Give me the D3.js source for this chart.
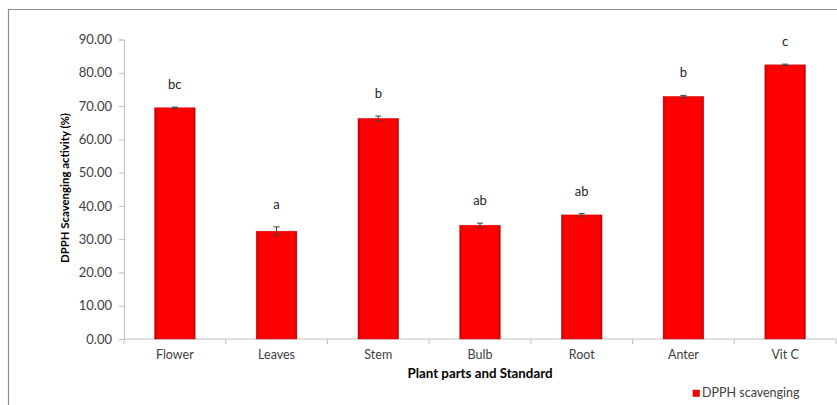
<!DOCTYPE html>
<html>
<head>
<meta charset="utf-8">
<script src="https://cdn.jsdelivr.net/npm/d3@7"></script>
<style>
  body { margin: 0; background: #fff; }
  svg { display: block; font-family: Lato, "Open Sans", sans-serif; }
</style>
</head>
<body>
<svg id="chart" width="837" height="405"></svg>
<script>
// data
const parts = ["Flower", "Leaves", "Stem", "Bulb", "Root", "Anter", "Vit C"];
const scavenging = [69.5, 32.4, 66.3, 34.2, 37.3, 72.9, 82.4];
const errors = [0.2, 1.3, 0.7, 0.6, 0.4, 0.3, 0.2];
const letters = ["bc", "a", "b", "ab", "ab", "b", "c"];
const yTicks = [0, 10, 20, 30, 40, 50, 60, 70, 80, 90];

const width = 837, height = 405;
const margin = { top: 39.5, right: 1, bottom: 66, left: 124 };
const svg = d3.select("#chart");

// outer frame of the chart area
svg.append("path")
    .attr("d", `M8.5,${height} V9.5 H${width}`)
    .attr("fill", "none").attr("stroke", "#8c8c8c").attr("stroke-width", 1.2);

const x = d3.scaleBand().domain(parts).range([margin.left, width - margin.right]).paddingInner(0.6).paddingOuter(0.3);
const y = d3.scaleLinear().domain([0, 90]).range([height - margin.bottom, margin.top]);

// gradient for the bevelled bars
const defs = svg.append("defs");
const grad = defs.append("linearGradient").attr("id", "barGrad").attr("x1", 0).attr("x2", 1);
grad.append("stop").attr("offset", "0%").attr("stop-color", "#c80000");
grad.append("stop").attr("offset", "8%").attr("stop-color", "#ff0000");
grad.append("stop").attr("offset", "92%").attr("stop-color", "#ff0000");
grad.append("stop").attr("offset", "100%").attr("stop-color", "#c80000");

// y axis
const gY = svg.append("g").attr("transform", `translate(${margin.left},0)`)
    .call(d3.axisLeft(y).tickValues(yTicks).tickFormat(d3.format(".2f")).tickSize(5).tickPadding(7));
gY.select(".domain").attr("stroke", "#bfbfbf");
gY.selectAll(".tick line").attr("stroke", "#bfbfbf");
gY.selectAll("text").attr("fill", "#404040").style("font-size", "13px").style("font-family", "Lato, sans-serif");

// x axis with ticks at band boundaries
const xAxisY = y(0);
const plotW = width - margin.right - margin.left;
svg.append("line").attr("x1", margin.left).attr("x2", width - margin.right)
    .attr("y1", xAxisY).attr("y2", xAxisY).attr("stroke", "#bfbfbf");
svg.append("g").selectAll("line").data(d3.range(parts.length + 1)).join("line")
    .attr("x1", i => margin.left + plotW / parts.length * i)
    .attr("x2", i => margin.left + plotW / parts.length * i)
    .attr("y1", xAxisY).attr("y2", xAxisY + 5).attr("stroke", "#bfbfbf");

svg.append("g").selectAll("text").data(parts).join("text")
    .attr("x", d => x(d) + x.bandwidth() / 2)
    .attr("y", xAxisY + 20)
    .attr("text-anchor", "middle")
    .attr("fill", "#404040")
    .style("font-size", "12.5px")
    .text(d => d);

// bars
const bars = svg.append("g");
bars.selectAll("rect").data(parts).join("rect")
    .attr("x", d => x(d))
    .attr("y", (d, i) => y(scavenging[i]))
    .attr("width", x.bandwidth())
    .attr("height", (d, i) => y(0) - y(scavenging[i]))
    .attr("fill", "url(#barGrad)")
    .attr("stroke", "#b00000").attr("stroke-width", 0.6).attr("stroke-opacity", 0.6);

// error bars
const eb = svg.append("g").attr("stroke", "#404040").attr("stroke-width", 1);
parts.forEach((p, i) => {
    const cx = x(p) + x.bandwidth() / 2;
    const y1 = y(scavenging[i] + errors[i]), y2 = y(scavenging[i] - errors[i]);
    eb.append("line").attr("x1", cx).attr("x2", cx).attr("y1", y1).attr("y2", y2);
    eb.append("line").attr("x1", cx - 3).attr("x2", cx + 3).attr("y1", y1).attr("y2", y1);
    eb.append("line").attr("x1", cx - 3).attr("x2", cx + 3).attr("y1", y2).attr("y2", y2);
});

// significance letters
svg.append("g").selectAll("text").data(parts).join("text")
    .attr("x", d => x(d) + x.bandwidth() / 2)
    .attr("y", (d, i) => y(scavenging[i] + errors[i]) - 18)
    .attr("text-anchor", "middle")
    .attr("fill", "#262626")
    .style("font-size", "13px")
    .text((d, i) => letters[i]);

// axis titles
svg.append("text")
    .attr("x", 480)
    .attr("y", 378)
    .attr("text-anchor", "middle")
    .attr("fill", "#000")
    .style("font-size", "13.3px").style("font-weight", "bold")
    .text("Plant parts and Standard");

svg.append("text")
    .attr("transform", `translate(69,188) rotate(-90)`)
    .attr("text-anchor", "middle")
    .attr("fill", "#000")
    .style("font-size", "11.4px").style("font-weight", "bold")
    .text("DPPH Scavenging activity (%)");

// legend
const legend = svg.append("g").attr("transform", "translate(693,390)");
legend.append("rect").attr("width", 6.5).attr("height", 6.5).attr("fill", "#ff0000").attr("stroke", "#b00000").attr("stroke-width", 0.5);
legend.append("text").attr("x", 9).attr("y", 7).attr("fill", "#404040").style("font-size", "12.5px").text("DPPH scavenging");
</script>
</body>
</html>
